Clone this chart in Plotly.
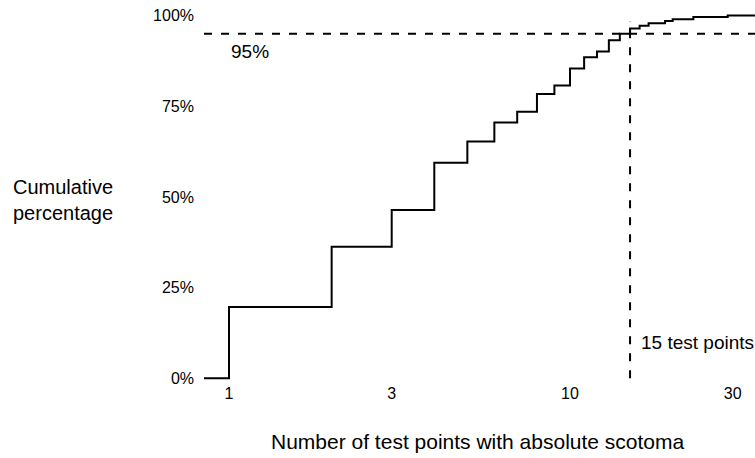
import plotly.graph_objects as go

# Data (step ECDF)
test_points = [1, 2, 3, 4, 5, 6, 7, 8, 9, 10, 11, 12, 13, 14, 15, 16, 17, 19, 20, 23, 29]
cum_pct = [19.7, 36.3, 46.4, 59.4, 65.3, 70.5, 73.5, 78.4, 80.7, 85.4, 88.5, 90.1,
           93.2, 95.0, 96.4, 97.2, 97.9, 98.5, 99.0, 99.6, 100.0]
y_tick_vals = [0, 25, 50, 75, 100]
y_tick_text = ["0%", "25%", "50%", "75%", "100%"]
x_tick_vals = [1, 3, 10, 30]
x_tick_text = ["1", "3", "10", "30"]
threshold_pct = 95
threshold_points = 15

X_RANGE_LOG = [-0.0733, 1.5425]
Y_RANGE = [-1, 104.28]
x_lo = 10 ** X_RANGE_LOG[0]
x_hi = 10 ** X_RANGE_LOG[1]

FONT = "Liberation Sans, Arial, Helvetica, sans-serif"

fig = go.Figure()

# step line
fig.add_trace(go.Scatter(
    x=[x_lo] + test_points + [x_hi],
    y=[0] + cum_pct + [cum_pct[-1]],
    mode="lines", line=dict(color="black", width=2, shape="hv"),
    showlegend=False, hoverinfo="skip"))

# 95% dashed horizontal
fig.add_trace(go.Scatter(
    x=[x_lo, x_hi], y=[threshold_pct, threshold_pct],
    mode="lines", line=dict(color="black", width=2, dash="8px,9px"),
    showlegend=False, hoverinfo="skip"))

# 15 test points dashed vertical
fig.add_trace(go.Scatter(
    x=[threshold_points, threshold_points], y=[0, 98.5],
    mode="lines", line=dict(color="black", width=2, dash="8px,9px"),
    showlegend=False, hoverinfo="skip"))

fig.update_layout(
    width=755, height=458,
    margin=dict(l=204, r=0, t=0, b=76),
    paper_bgcolor="white", plot_bgcolor="white",
    font=dict(family=FONT, color="black", size=16),
    showlegend=False,
    xaxis=dict(type="log", range=X_RANGE_LOG, showgrid=False, zeroline=False,
               showline=False, ticks="", tickvals=x_tick_vals, ticktext=x_tick_text,
               tickfont=dict(size=16, color="black")),
    yaxis=dict(range=Y_RANGE, showgrid=False, zeroline=False, showline=False,
               ticks="", tickvals=y_tick_vals, ticktext=y_tick_text,
               tickfont=dict(size=16, color="black"), ticklabelstandoff=9),
    annotations=[
        dict(text="Cumulative<br>percentage", xref="paper", yref="paper",
             x=-0.2559, y=0.476, xanchor="center", yanchor="middle",
             showarrow=False, font=dict(size=20, family=FONT, color="black")),
        dict(text="Number of test points with absolute scotoma", xref="paper", yref="paper",
             x=0.4973, y=-0.1557, xanchor="center", yanchor="middle",
             showarrow=False, font=dict(size=21, family=FONT, color="black")),
        dict(text="95%", xref="x", yref="y", x=0, y=90,
             xanchor="left", yanchor="middle", showarrow=False,
             font=dict(size=19, family=FONT, color="black")),
        dict(text="15 test points", xref="x", yref="y", x=1.17609, y=9.8,
             xanchor="left", yanchor="middle", xshift=9, showarrow=False,
             font=dict(size=19, family=FONT, color="black")),
    ],
)

fig.write_html("out.html")
